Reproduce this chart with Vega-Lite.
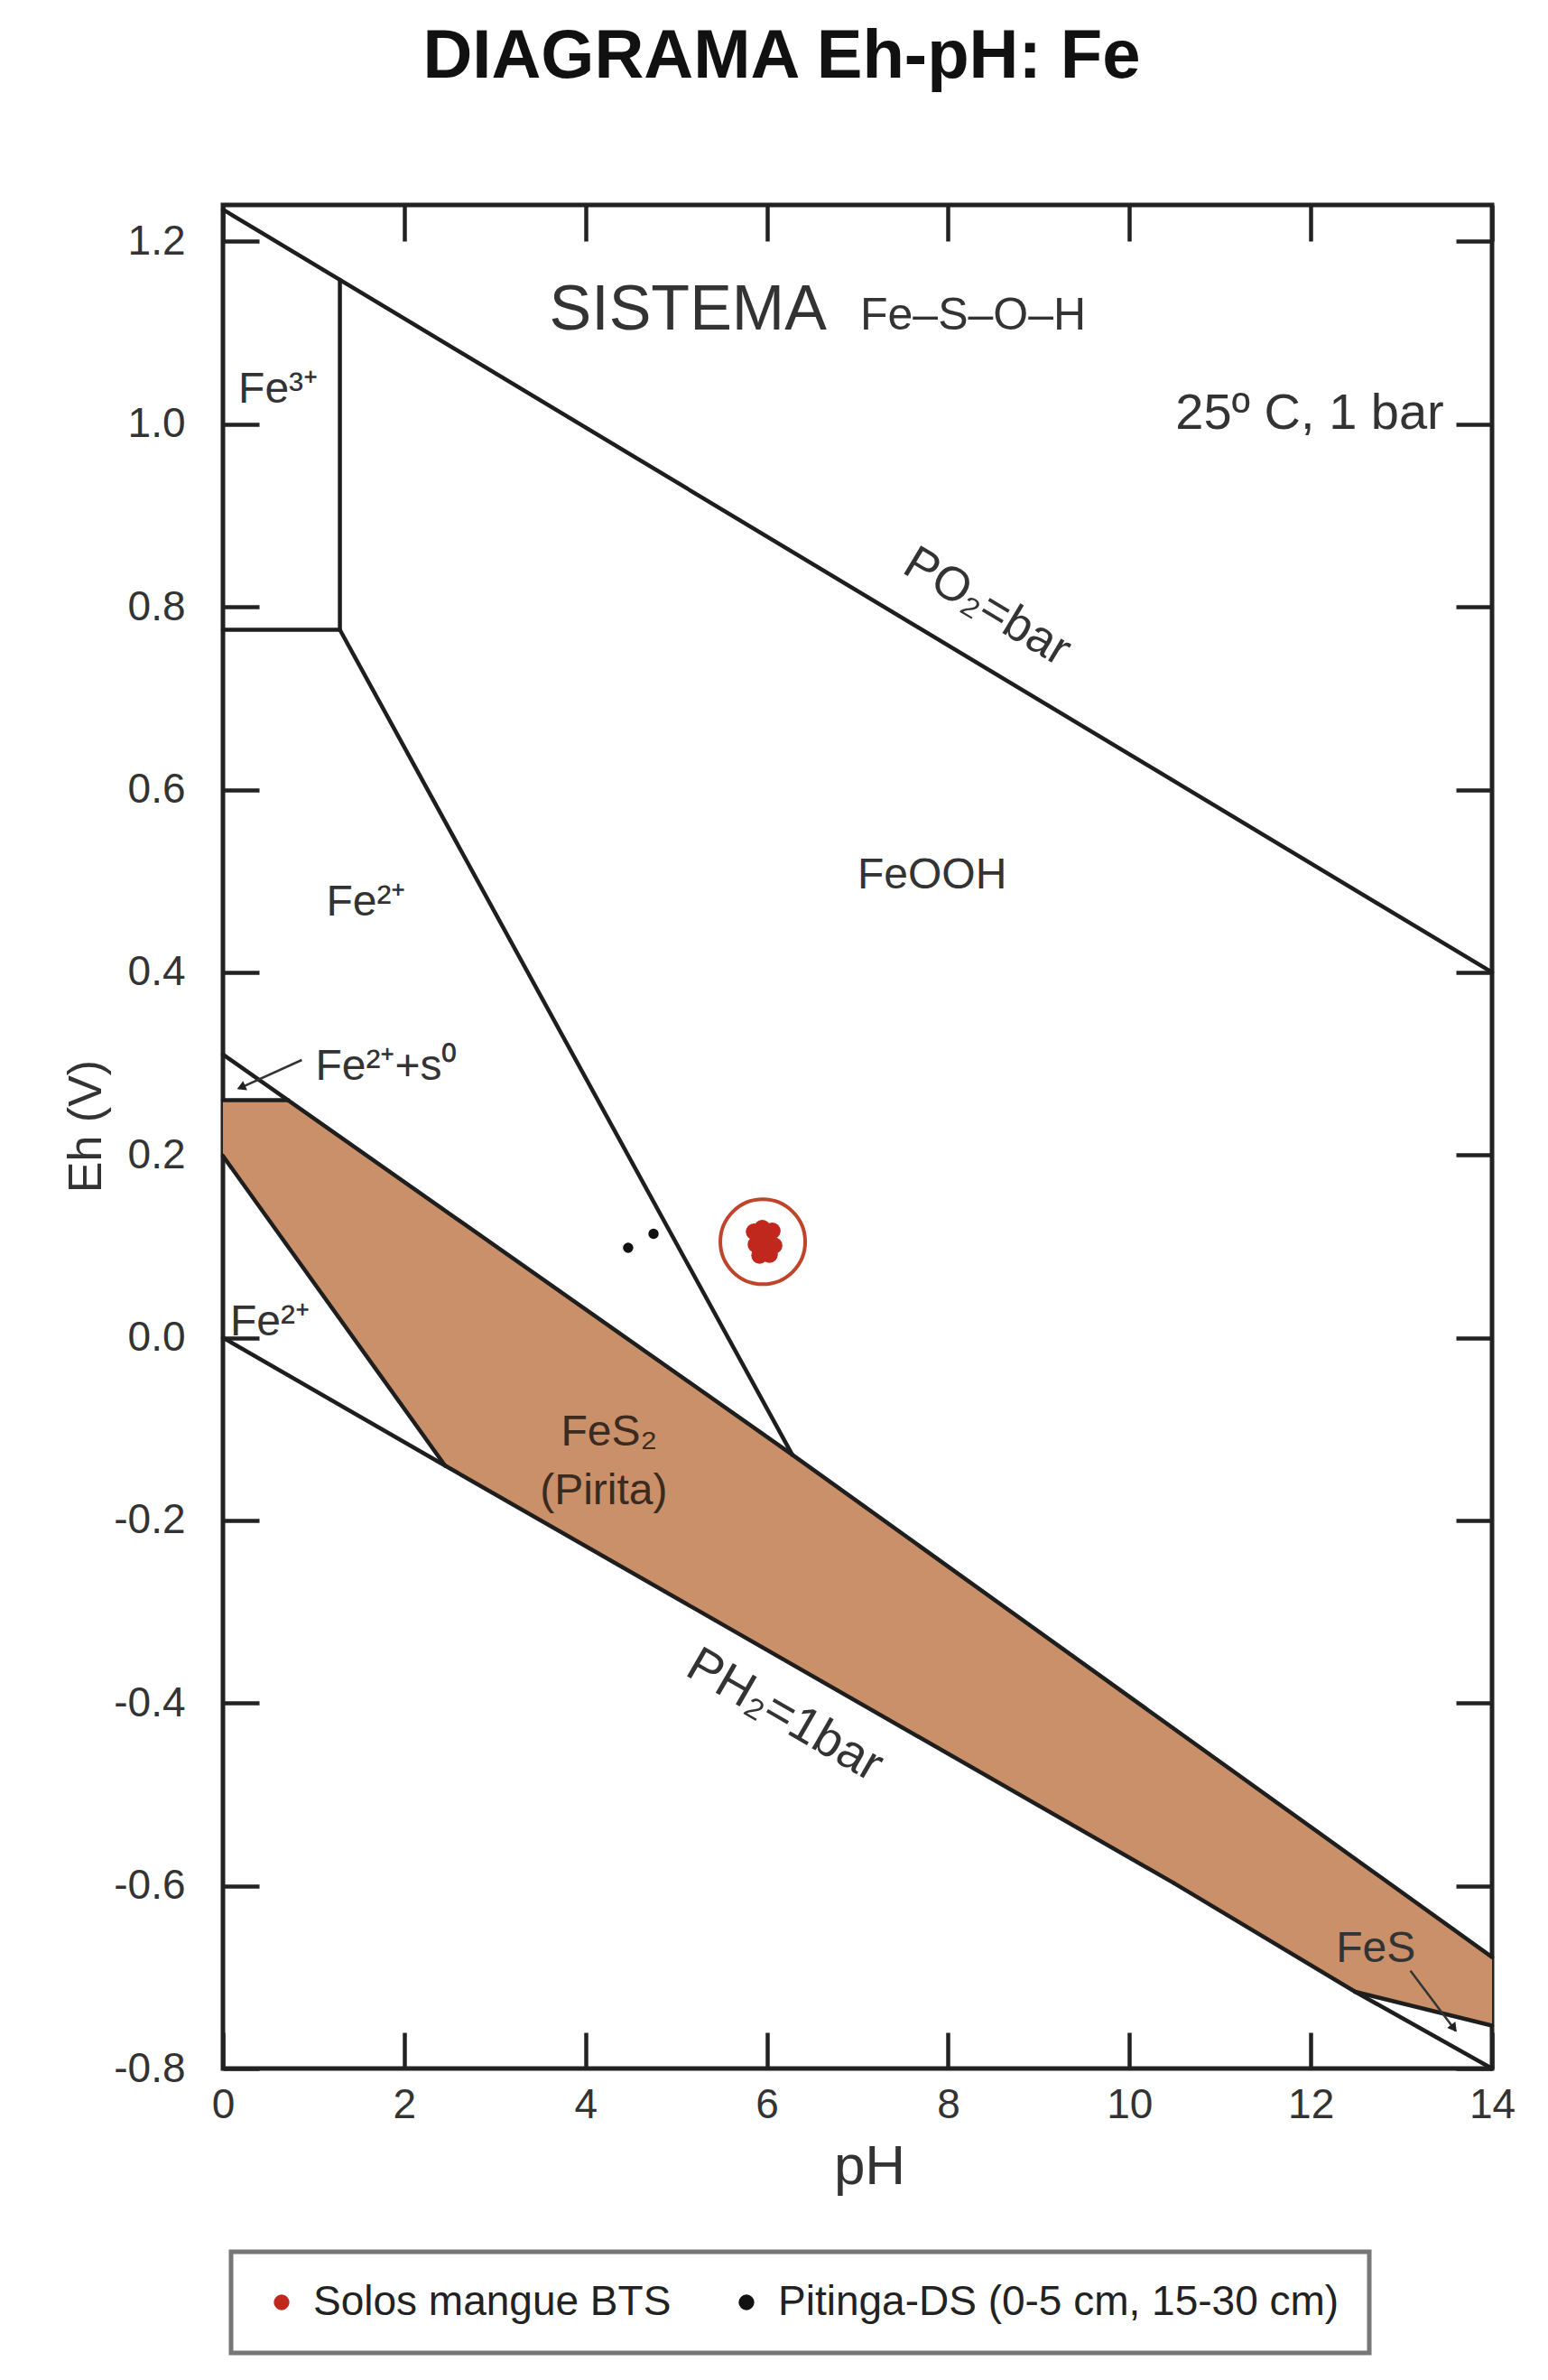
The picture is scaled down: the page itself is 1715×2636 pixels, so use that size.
{
  "$schema": "https://vega.github.io/schema/vega-lite/v6.json",
  "width": 1406,
  "height": 2064,
  "autosize": {"type": "none"},
  "padding": {"left": 247, "top": 227, "right": 62, "bottom": 345},
  "background": "white",
  "config": {
    "font": "Liberation Sans",
    "view": {"stroke": "#222222", "strokeWidth": 5},
    "axis": {
      "grid": false, "domain": false, "tickSize": -40, "tickWidth": 4.5, "tickColor": "#222222",
      "labelFont": "Liberation Sans", "labelFontSize": 46, "labelColor": "#333333",
      "titleFont": "Liberation Sans", "titleColor": "#333333", "titleFontWeight": "normal"
    },
    "legend": {"strokeWidth": 5}
  },
  "title": {
    "text": "DIAGRAMA Eh-pH: Fe", "font": "Liberation Sans", "fontSize": 76, "fontWeight": "bold",
    "color": "#111111", "anchor": "middle", "frame": "group", "dx": -84, "offset": 63, "baseline": "alphabetic"
  },
  "resolve": {"axis": {"x": "independent", "y": "independent"}},
  "layer": [
    {
      "data": {"values": [
        {"pH": 0, "top": 0.26, "bottom": 0.199},
        {"pH": 0.72, "top": 0.26, "bottom": 0.099},
        {"pH": 2.45, "top": 0.139, "bottom": -0.14},
        {"pH": 6.28, "top": -0.128, "bottom": -0.358},
        {"pH": 10.49, "top": -0.428, "bottom": -0.597},
        {"pH": 12.49, "top": -0.57, "bottom": -0.716},
        {"pH": 14, "top": -0.678, "bottom": -0.753}
      ]},
      "mark": {"type": "area", "color": "#C9906A", "opacity": 1},
      "encoding": {
        "x": {"field": "pH", "type": "quantitative",
          "scale": {"domain": [0, 14], "nice": false, "zero": false},
          "axis": {"orient": "bottom", "values": [0, 2, 4, 6, 8, 10, 12, 14], "title": "pH", "titleFontSize": 62,
            "titleX": 716, "titleY": 127, "titleBaseline": "alphabetic", "labelPadding": 58, "labelFlush": false}},
        "y": {"field": "top", "type": "quantitative",
          "scale": {"domain": [-0.8, 1.24], "nice": false, "zero": false},
          "axis": {"orient": "left", "values": [-0.8, -0.6, -0.4, -0.2, 0, 0.2, 0.4, 0.6, 0.8, 1, 1.2],
            "labelExpr": "replace(format(datum.value, '.1f'), '\u2212', '-')",
            "title": "Eh (V)", "titleFontSize": 52, "titleX": -136, "titleY": 1020, "titleBaseline": "alphabetic",
            "labelPadding": 82, "labelFlush": false}},
        "y2": {"field": "bottom"}
      }
    },
    {
      "data": {"values": [
        {"x1": 0, "y1": 1.235, "x2": 14, "y2": 0.40},
        {"x1": 1.29, "y1": 0.775, "x2": 1.29, "y2": 1.158},
        {"x1": 0, "y1": 0.775, "x2": 1.29, "y2": 0.775},
        {"x1": 1.29, "y1": 0.775, "x2": 6.28, "y2": -0.128},
        {"x1": 0, "y1": 0.31, "x2": 6.28, "y2": -0.128},
        {"x1": 6.28, "y1": -0.128, "x2": 14, "y2": -0.678},
        {"x1": 0, "y1": 0.26, "x2": 0.72, "y2": 0.26},
        {"x1": 0, "y1": 0.199, "x2": 2.45, "y2": -0.14},
        {"x1": 0, "y1": 0.0, "x2": 2.45, "y2": -0.14},
        {"x1": 2.45, "y1": -0.14, "x2": 10.49, "y2": -0.597},
        {"x1": 10.49, "y1": -0.597, "x2": 12.49, "y2": -0.716},
        {"x1": 12.49, "y1": -0.716, "x2": 14, "y2": -0.80},
        {"x1": 12.49, "y1": -0.716, "x2": 14, "y2": -0.753}
      ]},
      "mark": {"type": "rule", "color": "#1e1e1e", "strokeWidth": 4.5, "strokeCap": "round"},
      "encoding": {
        "x": {"field": "x1", "type": "quantitative",
          "scale": {"domain": [0, 14], "nice": false, "zero": false},
          "axis": {"orient": "top", "values": [0, 2, 4, 6, 8, 10, 12, 14], "labels": false, "title": null}},
        "y": {"field": "y1", "type": "quantitative",
          "scale": {"domain": [-0.8, 1.24], "nice": false, "zero": false},
          "axis": {"orient": "right", "values": [-0.8, -0.6, -0.4, -0.2, 0, 0.2, 0.4, 0.6, 0.8, 1, 1.2], "labels": false, "title": null}},
        "x2": {"field": "x2"},
        "y2": {"field": "y2"}
      }
    },
    {
      "data": {"values": [
        {"x1": 0.87, "y1": 0.304, "x2": 0.18, "y2": 0.273},
        {"x1": 13.10, "y1": -0.693, "x2": 13.60, "y2": -0.759}
      ]},
      "mark": {"type": "rule", "color": "#333333", "strokeWidth": 2.5},
      "encoding": {
        "x": {"field": "x1", "type": "quantitative", "axis": null},
        "y": {"field": "y1", "type": "quantitative", "axis": null},
        "x2": {"field": "x2"},
        "y2": {"field": "y2"}
      }
    },
    {
      "data": {"values": [{"pH": 0.2, "Eh": 0.274}]},
      "mark": {"type": "point", "shape": "triangle-up", "filled": true, "opacity": 1, "color": "#222222", "size": 130, "angle": 246},
      "encoding": {
        "x": {"field": "pH", "type": "quantitative", "axis": null},
        "y": {"field": "Eh", "type": "quantitative", "axis": null}
      }
    },
    {
      "data": {"values": [{"pH": 13.58, "Eh": -0.756}]},
      "mark": {"type": "point", "shape": "triangle-up", "filled": true, "opacity": 1, "color": "#222222", "size": 130, "angle": 143},
      "encoding": {
        "x": {"field": "pH", "type": "quantitative", "axis": null},
        "y": {"field": "Eh", "type": "quantitative", "axis": null}
      }
    },
    {
      "data": {"values": [{"label": "SISTEMA", "pH": 3.60, "Eh": 1.104}]},
      "mark": {"type": "text", "font": "Liberation Sans", "fontSize": 70, "align": "left", "baseline": "alphabetic", "color": "#333333"},
      "encoding": {
        "x": {"field": "pH", "type": "quantitative", "axis": null},
        "y": {"field": "Eh", "type": "quantitative", "axis": null},
        "text": {"field": "label"}
      }
    },
    {
      "data": {"values": [{"label": "Fe\u2013S\u2013O\u2013H", "pH": 7.03, "Eh": 1.104}]},
      "mark": {"type": "text", "font": "Liberation Sans", "fontSize": 50, "align": "left", "baseline": "alphabetic", "color": "#333333"},
      "encoding": {
        "x": {"field": "pH", "type": "quantitative", "axis": null},
        "y": {"field": "Eh", "type": "quantitative", "axis": null},
        "text": {"field": "label"}
      }
    },
    {
      "data": {"values": [{"label": "25\u00ba C, 1 bar", "pH": 13.47, "Eh": 0.995}]},
      "mark": {"type": "text", "font": "Liberation Sans", "fontSize": 56, "align": "right", "baseline": "alphabetic", "color": "#333333"},
      "encoding": {
        "x": {"field": "pH", "type": "quantitative", "axis": null},
        "y": {"field": "Eh", "type": "quantitative", "axis": null},
        "text": {"field": "label"}
      }
    },
    {
      "data": {"values": [
        {"label": "Fe\u00b3\u207a", "pH": 0.17, "Eh": 1.024},
        {"label": "Fe\u00b2\u207a", "pH": 1.14, "Eh": 0.462},
        {"label": "FeOOH", "pH": 7.0, "Eh": 0.492},
        {"label": "Fe\u00b2\u207a+s\u2070", "pH": 1.02, "Eh": 0.282},
        {"label": "Fe\u00b2\u207a", "pH": 0.08, "Eh": 0.003},
        {"label": "FeS", "pH": 12.28, "Eh": -0.683}
      ]},
      "mark": {"type": "text", "font": "Liberation Sans", "fontSize": 48, "align": "left", "baseline": "alphabetic", "color": "#333333"},
      "encoding": {
        "x": {"field": "pH", "type": "quantitative", "axis": null},
        "y": {"field": "Eh", "type": "quantitative", "axis": null},
        "text": {"field": "label"}
      }
    },
    {
      "data": {"values": [
        {"label": "FeS\u2082", "pH": 4.26, "Eh": -0.118},
        {"label": "(Pirita)", "pH": 4.2, "Eh": -0.182}
      ]},
      "mark": {"type": "text", "font": "Liberation Sans", "fontSize": 48, "align": "center", "baseline": "alphabetic", "color": "#3a2a20"},
      "encoding": {
        "x": {"field": "pH", "type": "quantitative", "axis": null},
        "y": {"field": "Eh", "type": "quantitative", "axis": null},
        "text": {"field": "label"}
      }
    },
    {
      "data": {"values": [{"label": "PO\u2082=bar", "pH": 8.43, "Eh": 0.80}]},
      "mark": {"type": "text", "font": "Liberation Sans", "fontSize": 53, "align": "center", "baseline": "middle", "angle": 31, "color": "#333333"},
      "encoding": {
        "x": {"field": "pH", "type": "quantitative", "axis": null},
        "y": {"field": "Eh", "type": "quantitative", "axis": null},
        "text": {"field": "label"}
      }
    },
    {
      "data": {"values": [{"label": "PH\u2082=1bar", "pH": 6.20, "Eh": -0.413}]},
      "mark": {"type": "text", "font": "Liberation Sans", "fontSize": 55, "align": "center", "baseline": "middle", "angle": 30, "color": "#333333"},
      "encoding": {
        "x": {"field": "pH", "type": "quantitative", "axis": null},
        "y": {"field": "Eh", "type": "quantitative", "axis": null},
        "text": {"field": "label"}
      }
    },
    {
      "data": {"values": [{"pH": 5.955, "Eh": 0.105}]},
      "mark": {"type": "point", "shape": "circle", "filled": false, "opacity": 1, "color": "#c0442a", "strokeWidth": 4, "size": 8836},
      "encoding": {
        "x": {"field": "pH", "type": "quantitative", "axis": null},
        "y": {"field": "Eh", "type": "quantitative", "axis": null}
      }
    },
    {
      "data": {"values": [
        {"group": "Solos mangue BTS", "pH": 5.86, "Eh": 0.116},
        {"group": "Solos mangue BTS", "pH": 5.95, "Eh": 0.120},
        {"group": "Solos mangue BTS", "pH": 6.06, "Eh": 0.117},
        {"group": "Solos mangue BTS", "pH": 5.88, "Eh": 0.102},
        {"group": "Solos mangue BTS", "pH": 5.98, "Eh": 0.105},
        {"group": "Solos mangue BTS", "pH": 6.08, "Eh": 0.101},
        {"group": "Solos mangue BTS", "pH": 5.92, "Eh": 0.090},
        {"group": "Solos mangue BTS", "pH": 6.03, "Eh": 0.091},
        {"group": "Solos mangue BTS", "pH": 5.96, "Eh": 0.112}
      ]},
      "mark": {"type": "point", "shape": "circle", "filled": true, "opacity": 1, "size": 340},
      "encoding": {
        "x": {"field": "pH", "type": "quantitative", "axis": null},
        "y": {"field": "Eh", "type": "quantitative", "axis": null},
        "color": {"field": "group", "type": "nominal",
          "scale": {"domain": ["Solos mangue BTS", "Pitinga-DS (0-5 cm, 15-30 cm)"], "range": ["#c0281e", "#111111"]},
          "legend": {"title": null, "orient": "none", "legendX": 9, "legendY": 2267, "direction": "horizontal",
            "strokeColor": "#777777", "fillColor": "white", "padding": 33, "labelFont": "Liberation Sans", "labelFontSize": 46,
            "labelColor": "#222222", "labelLimit": 1000, "symbolType": "circle", "symbolSize": 300, "symbolStrokeWidth": 0,
            "symbolOpacity": 1, "labelOffset": 12, "columnPadding": 60}}
      }
    },
    {
      "data": {"values": [
        {"group": "Pitinga-DS (0-5 cm, 15-30 cm)", "pH": 4.47, "Eh": 0.0985},
        {"group": "Pitinga-DS (0-5 cm, 15-30 cm)", "pH": 4.75, "Eh": 0.1138}
      ]},
      "mark": {"type": "point", "shape": "circle", "filled": true, "opacity": 1, "size": 130},
      "encoding": {
        "x": {"field": "pH", "type": "quantitative", "axis": null},
        "y": {"field": "Eh", "type": "quantitative", "axis": null},
        "color": {"field": "group", "type": "nominal"}
      }
    }
  ]
}
